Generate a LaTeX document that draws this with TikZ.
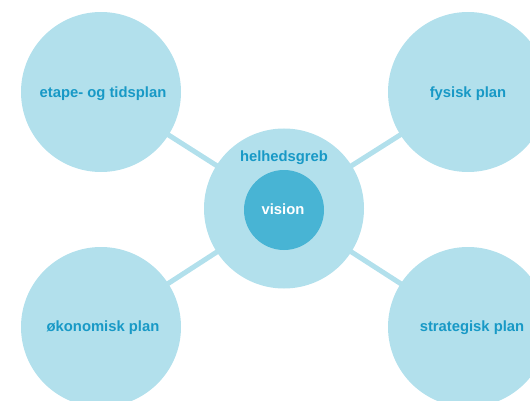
\documentclass[tikz,border=0pt]{standalone}
\usepackage{fontspec}
\setmainfont{Liberation Sans}
\definecolor{lightc}{HTML}{B2E0EC}
\definecolor{darkc}{HTML}{48B4D4}
\definecolor{textc}{HTML}{1899C6}
\begin{document}
\begin{tikzpicture}[x=1pt,y=-1pt,
  lbl/.style={font=\bfseries\fontsize{14.8}{17}\selectfont,text=textc},
  outer/.style={circle,fill=lightc,minimum size=160pt,inner sep=0pt},
  inner/.style={circle,fill=darkc,minimum size=80pt,inner sep=0pt,font=\bfseries\fontsize{14.8}{17}\selectfont,text=white},
  link/.style={draw=lightc,line width=5pt}]
\useasboundingbox (0,0) rectangle (530,401);
\coordinate (ctr) at (284,208.5);
\coordinate (tlc) at (101,92);
\coordinate (trc) at (468,92);
\coordinate (blc) at (101,327);
\coordinate (brc) at (468,327);
\draw[link] (tlc) -- (ctr);
\draw[link] (trc) -- (ctr);
\draw[link] (blc) -- (ctr);
\draw[link] (brc) -- (ctr);
\node[outer] (tl) at (tlc) {};
\node[outer] (tr) at (trc) {};
\node[outer] (bl) at (blc) {};
\node[outer] (br) at (brc) {};
\node[lbl] (tlt) at (103,94) {etape- og tidsplan};
\node[lbl] (trt) at (468,94) {fysisk plan};
\node[lbl] (blt) at (103,328) {økonomisk plan};
\node[lbl] (brt) at (472,328) {strategisk plan};
\node[outer] (center) at (ctr) {};
\node[lbl] (hg) at (284,158) {helhedsgreb};
\node[inner] (vision) at (284,210) {};
\node[font=\bfseries\fontsize{14.8}{17}\selectfont,text=white] (vt) at (283,209.5) {vision};
\end{tikzpicture}
\end{document}
